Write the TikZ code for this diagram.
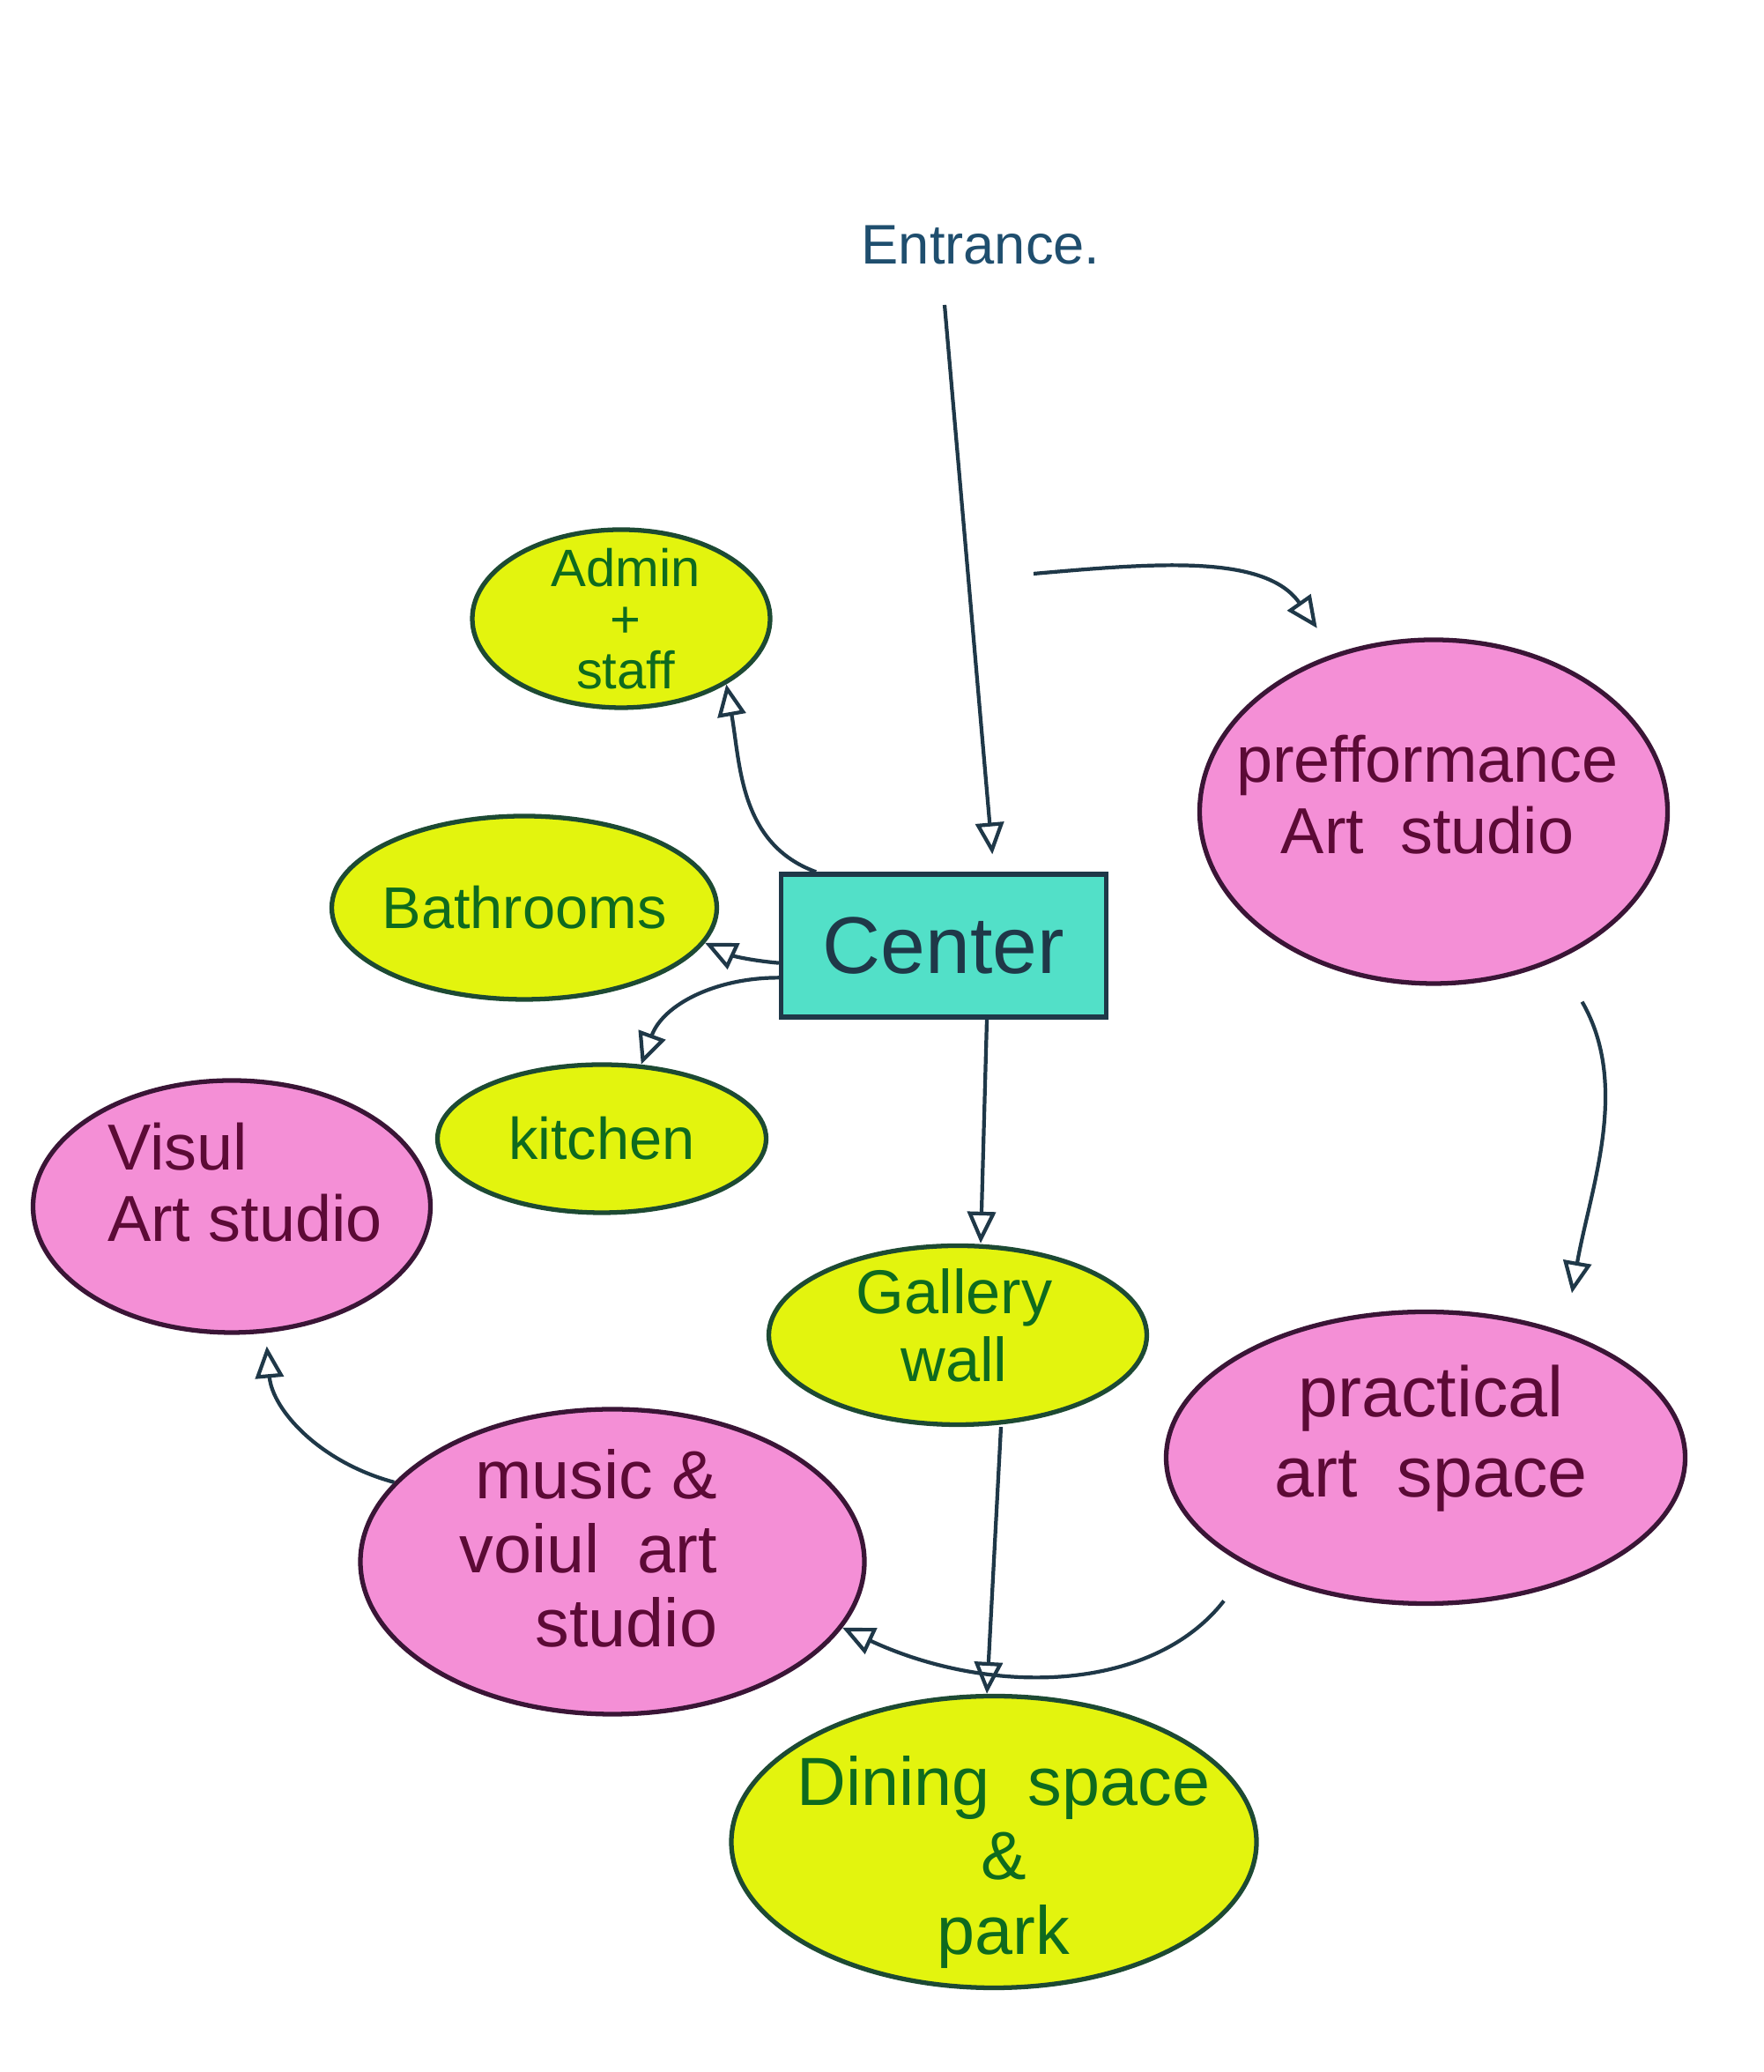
\documentclass[tikz,border=0pt]{standalone}
\usepackage{fontspec}
\setmainfont{Liberation Sans}
\usepackage{tikz}
\usetikzlibrary{calc}
\usetikzlibrary{arrows.meta, positioning, shapes.geometric}
\definecolor{YEL}{HTML}{E3F40E}
\definecolor{YELd}{HTML}{1D4A33}
\definecolor{YELt}{HTML}{0E6B1E}
\definecolor{PNK}{HTML}{F48FD6}
\definecolor{PNKd}{HTML}{3A1536}
\definecolor{PNKt}{HTML}{5C0A36}
\definecolor{CEN}{HTML}{52E0C8}
\definecolor{INK}{HTML}{1F3848}
\definecolor{ENT}{HTML}{1F4E6E}
\tikzset{
  YEL/.style={% Style for the yellow marker bubbles
      ellipse, line width=1.5pt,
      inner sep=0pt,
      fill=YEL,
      draw=YELd,
  },
  YELtxt/.style={text=YELt, align=center},
  PNK/.style={% Style for the pink marker bubbles
      ellipse, line width=1.5pt,
      inner sep=0pt,
      fill=PNK,
      draw=PNKd,
  },
  PNKtxt/.style={text=PNKt, align=center},
  PNKl/.style={PNK},% left set text
  PNKltxt/.style={PNKtxt, align=left},
  PNKr/.style={PNK},% right set text
  PNKrtxt/.style={PNKtxt, align=right},
  CEN/.style={% Style for the middle box
      rectangle, line width=1.5pt,
      minimum width=3.69cm,
      minimum height=1.62cm,
      fill=CEN,
      draw=INK,
      text=INK,
      font=\fontsize{26}{28}\selectfont
  },
  ENT/.style={text=ENT, font=\fontsize{18}{20}\selectfont},
  flow/.style={
    draw=INK, line width=1.2pt,
    -{Triangle[open, length=0.36cm, width=0.32cm, line width=1.2pt]}
  }
}
\def\bubble(#1)#2[#3,#4,#5]#6/#7(#8)#9{%
  \node[#3, minimum width=#4cm, minimum height=#5cm] (#2) at (#1) {};% the marker bubble
  \node[#3txt, font=\fontsize{#6}{#7}\selectfont] (#2txt) at ([shift={(#8)}]#2.center) {#9};% its words
}

\begin{document}
\begin{tikzpicture}
    \useasboundingbox (0,0) rectangle (20.01,23.51);
    \node[ENT] (entrance) at (11.13,20.73) {Entrance.};
    \coordinate (entry) at (10.72,20.05);
    \coordinate (split) at (11.73,17.00);
    \node[CEN] (hub) at (10.71,12.78) {Center};
    % centre, name, [look, width, height] font/skip (text shift) text
    \bubble(7.05,16.49){admin}[YEL,3.38,2.02]17/16.5(0.05,0.0){Admin\\+\\staff}
    \bubble(5.95,13.21){bath}[YEL,4.37,2.08]19/21(0,0){Bathrooms}
    \bubble(6.83,10.59){kitchen}[YEL,3.73,1.68]19/21(0,0){kitchen}
    \bubble(2.63,9.82){visul}[PNKl,4.51,2.86]21/23(0.15,0.27){Visul\\Art studio}
    \bubble(16.27,14.30){perf}[PNK,5.31,3.90]21/23(-0.07,0.19){prefformance\\Art\ \ studio}
    \bubble(16.18,6.97){practical}[PNK,5.89,3.31]23/26(0.06,0.22){practical\\art\ \ space}
    \bubble(10.87,8.36){gallery}[YEL,4.29,2.03]20/22(-0.04,0.11){Gallery\\wall}
    \bubble(6.95,5.79){music}[PNKr,5.72,3.46]22/24(-0.27,0.15){music \&\\voiul\ \ art\\studio}
    \bubble(11.28,2.61){dining}[YEL,5.96,3.31]22/24(0.11,-0.23){Dining\ \ space\\\&\\park}
    % connectors
    \draw[flow, shorten >=0.2cm] (entry) -- ([xshift=0.57cm]hub.north);
    \draw[flow] (hub.150) to[out=160, in=-80] (admin.-32);
    \draw[flow] (hub.186) to[out=175, in=-25] (bath.-11);
    \draw[flow] (hub.191) to[out=180, in=70] (kitchen.62);
    \draw[flow] ([xshift=0.49cm]hub.south) -- ([xshift=0.26cm]gallery.north);
    \draw[flow] ([xshift=0.49cm]gallery.south) -- ([xshift=-0.08cm]dining.north);
    \draw[flow, shorten >=0.35cm] (split) to[out=5, in=125] (perf.122);
    \draw[flow, shorten <=0.55cm, shorten >=0.45cm] (perf.-50) to[out=-60, in=80] (practical.42);
    \draw[flow, shorten <=0.48cm] (practical.212) to[out=-128, in=-25] (music.-16);
    \draw[flow, shorten >=0.15cm] (music.160) to[out=165, in=-85] (visul.-75);
\end{tikzpicture}
\end{document}
